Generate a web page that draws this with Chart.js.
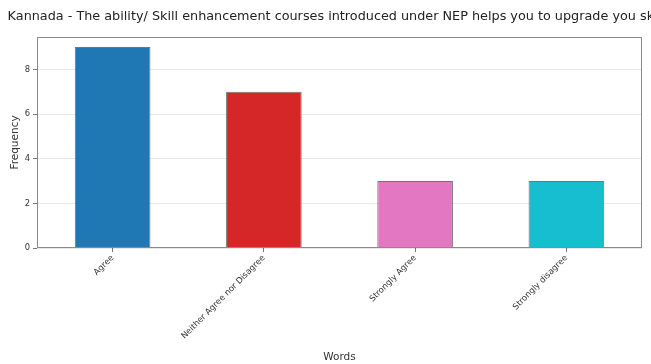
<!DOCTYPE html>
<html>
<head>
<meta charset="utf-8">
<script src="https://cdn.jsdelivr.net/npm/chart.js@4/dist/chart.umd.min.js"></script>
<style>
    html, body {margin: 0; padding: 0; background: #fff;}
    #wrap {width: 651px; height: 364px; position: relative;}
</style>
</head>
<body>
<div id="wrap"><canvas id="chart" width="651" height="364"></canvas></div>
<script>
const titleText = "Kannada - The ability/ Skill enhancement courses introduced under NEP helps you to upgrade you skills";
const categories = ["Agree", "Neither Agree nor Disagree", "Strongly Agree", "Strongly disagree"];
const counts = [9, 7, 3, 3];
const barColors = ["#1f77b4", "#d62728", "#e377c2", "#17becf"];
const yTicks = [0, 2, 4, 6, 8];

const FONT = "'DejaVu Sans', sans-serif";

// title centered over the plot area (runs off the right edge like the original)
const axesTitle = {
    id: "axesTitle",
    afterDraw(chart) {
        const {ctx, chartArea} = chart;
        ctx.save();
        ctx.font = "12.8px " + FONT;
        ctx.fillStyle = "#222";
        ctx.textAlign = "center";
        ctx.textBaseline = "middle";
        ctx.fillText(titleText, (chartArea.left + chartArea.right) / 2, 17);
        ctx.restore();
    }
};

// full frame around the axes
const frame = {
    id: "frame",
    afterDatasetsDraw(chart) {
        const {ctx, chartArea: a} = chart;
        ctx.save();
        ctx.strokeStyle = "#8a8a8a";
        ctx.lineWidth = 1;
        ctx.strokeRect(a.left + 0.5, a.top + 0.5, a.right - a.left - 1, a.bottom - a.top - 1);
        ctx.restore();
    }
};

const data = {
    labels: categories,
    datasets: [{
        data: counts,
        backgroundColor: barColors,
        borderColor: "rgba(0, 0, 0, 0.55)",
        borderWidth: 1,
        barPercentage: 0.5,
        categoryPercentage: 1.0,
    }],
};

const options = {
    responsive: false,
    animation: false,
    layout: {padding: {top: 37, right: 9, left: 0, bottom: 0}},
    plugins: {
        legend: {display: false},
        tooltip: {enabled: false},
    },
    scales: {
        x: {
            grid: {display: true, offset: false, drawOnChartArea: false, drawTicks: true, tickLength: 4, tickColor: "#777"},
            border: {display: false},
            ticks: {
                color: "#333",
                font: {family: FONT, size: 8.4},
                minRotation: 45,
                maxRotation: 45,
                padding: 1,
            },
            title: {
                display: true,
                text: "Words",
                color: "#333",
                font: {family: FONT, size: 10.5},
                padding: {top: 0, bottom: 0},
            },
            afterFit: (scale) => { scale.height = 116; },
        },
        y: {
            min: 0,
            max: 9.45,
            afterBuildTicks: (scale) => { scale.ticks = yTicks.map(v => ({value: v})); },
            grid: {color: "rgba(0,0,0,0.09)", drawTicks: true, tickLength: 4, tickColor: "#777"},
            border: {display: false},
            ticks: {
                color: "#333",
                font: {family: FONT, size: 8.4},
                padding: 3,
            },
            title: {
                display: true,
                text: "Frequency",
                color: "#333",
                font: {family: FONT, size: 10.5},
                padding: {top: 9, bottom: 0},
            },
            afterFit: (scale) => { scale.width = 37; },
        },
    },
};

new Chart(document.getElementById("chart").getContext("2d"), {
    type: "bar",
    data,
    options,
    plugins: [axesTitle, frame],
});
</script>
</body>
</html>
